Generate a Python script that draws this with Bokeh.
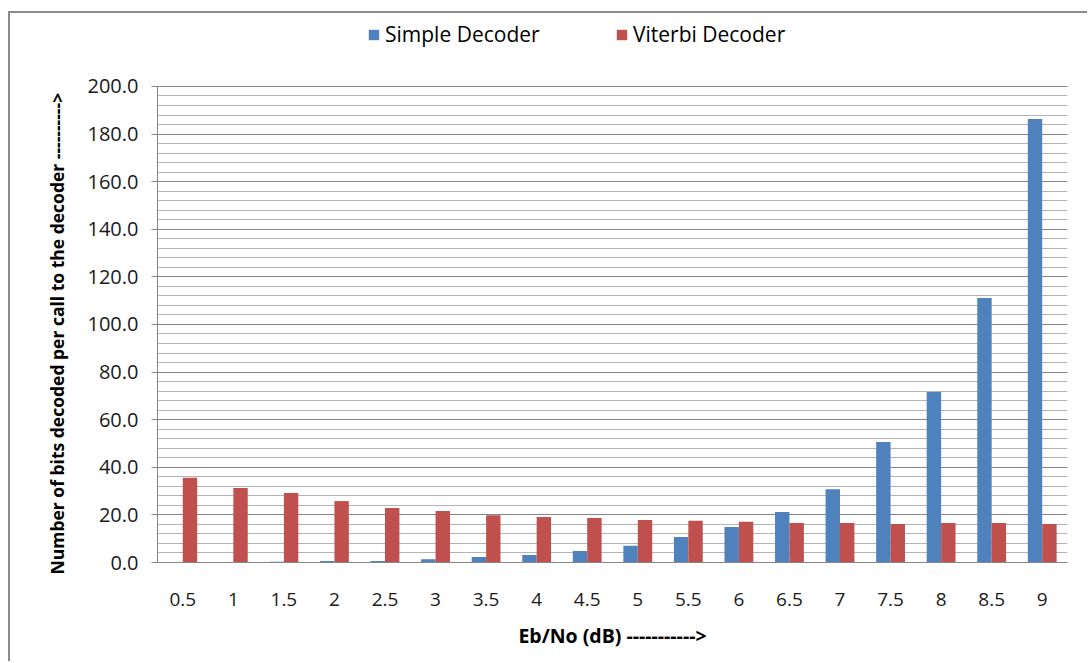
from bokeh.plotting import figure
from bokeh.models import (FactorRange, Range1d, ColumnDataSource, FixedTicker,
                          NumeralTickFormatter, Legend, LegendItem, Title)
from bokeh.transform import dodge
from bokeh.embed import file_html
from bokeh.resources import INLINE

ebno = ["0.5", "1", "1.5", "2", "2.5", "3", "3.5", "4", "4.5", "5",
        "5.5", "6", "6.5", "7", "7.5", "8", "8.5", "9"]
simple = [0.0, 0.0, 0.3, 0.6, 0.6, 1.4, 2.3, 3.1, 4.8, 7.0,
          10.7, 14.9, 21.2, 30.8, 50.6, 71.6, 111.1, 186.3]
viterbi = [35.6, 31.3, 29.2, 25.8, 22.9, 21.6, 19.9, 19.1, 18.7, 17.9,
           17.5, 17.1, 16.6, 16.6, 16.2, 16.6, 16.6, 16.2]
y_major = list(range(0, 201, 20))
y_minor = list(range(0, 201, 4))
Y_MAX = 200

BLUE = "#4F81BD"
RED = "#C0504D"
FONT = "Open Sans"

src = ColumnDataSource(dict(x=ebno, simple=simple, viterbi=viterbi))

# frame is extended upward so the legend can live inside it; the axis stops at 200
y_top = Y_MAX * (562.5 - 20) / (562.5 - 86)

p = figure(width=1079, height=650, x_range=FactorRange(*ebno), y_range=Range1d(0, y_top),
           output_backend="svg", toolbar_location=None,
           min_border_left=147, min_border_right=22, min_border_top=7, min_border_bottom=101,
           styles={"margin-left": "8px", "margin-top": "11px",
                   "border-left": "2px solid #8c8c8c", "border-top": "2px solid #8c8c8c"})
p.x_range.range_padding = 0
p.outline_line_color = None

bw = 0.285
r1 = p.vbar(x=dodge("x", -bw / 2, range=p.x_range), top="simple", width=bw, source=src,
            fill_color=BLUE, line_color=None)
r2 = p.vbar(x=dodge("x", bw / 2, range=p.x_range), top="viterbi", width=bw, source=src,
            fill_color=RED, line_color=None)

# grid
p.xgrid.grid_line_color = None
p.yaxis.ticker = FixedTicker(ticks=y_major, minor_ticks=y_minor)
p.ygrid.grid_line_color = "#868686"
p.ygrid.grid_line_width = 1
p.ygrid.minor_grid_line_color = "#b4b4b4"
p.ygrid.minor_grid_line_width = 1

# y axis
p.yaxis.bounds = (0, Y_MAX)
p.yaxis.formatter = NumeralTickFormatter(format="0.0")
p.yaxis.axis_line_color = "#868686"
p.yaxis.major_tick_line_color = "#868686"
p.yaxis.major_tick_out = 6
p.yaxis.major_tick_in = 0
p.yaxis.minor_tick_line_color = None
p.yaxis.major_label_standoff = 13
p.yaxis.major_label_text_font = FONT
p.yaxis.major_label_text_font_size = "20px"
p.yaxis.major_label_text_color = "#1a1a1a"

ytitle = Title(text="Number of bits decoded per call to the decoder      ---------->",
               align="left", offset=-12, standoff=32,
               text_font=FONT, text_font_size="17.5px", text_font_style="bold",
               text_color="#000000")
p.add_layout(ytitle, "left")

# x axis
p.xaxis.axis_line_color = "#868686"
p.xaxis.major_tick_line_color = None
p.xaxis.minor_tick_line_color = None
p.xaxis.major_label_standoff = 24
p.xaxis.major_label_text_font = FONT
p.xaxis.major_label_text_font_size = "19px"
p.xaxis.major_label_text_color = "#1a1a1a"
p.xaxis.axis_label = "Eb/No (dB) ----------->"
p.xaxis.axis_label_text_font = FONT
p.xaxis.axis_label_text_font_size = "19.5px"
p.xaxis.axis_label_text_font_style = "bold"
p.xaxis.axis_label_text_color = "#000000"
p.xaxis.axis_label_standoff = 13

# legends (top of the frame, above the 200 line)
def make_legend(label, rend, loc):
    return Legend(items=[LegendItem(label=label, renderers=[rend])], location=loc,
                  orientation="horizontal", border_line_color=None,
                  background_fill_alpha=0, padding=0, margin=0,
                  glyph_width=13, glyph_height=13, label_standoff=5,
                  label_text_font=FONT, label_text_font_size="21px",
                  label_text_color="#000000")

p.add_layout(make_legend("Simple Decoder", r1, (210, 514)), "center")
p.add_layout(make_legend("Viterbi Decoder", r2, (458, 514)), "center")

open("out.html", "w").write(file_html(p, INLINE))
